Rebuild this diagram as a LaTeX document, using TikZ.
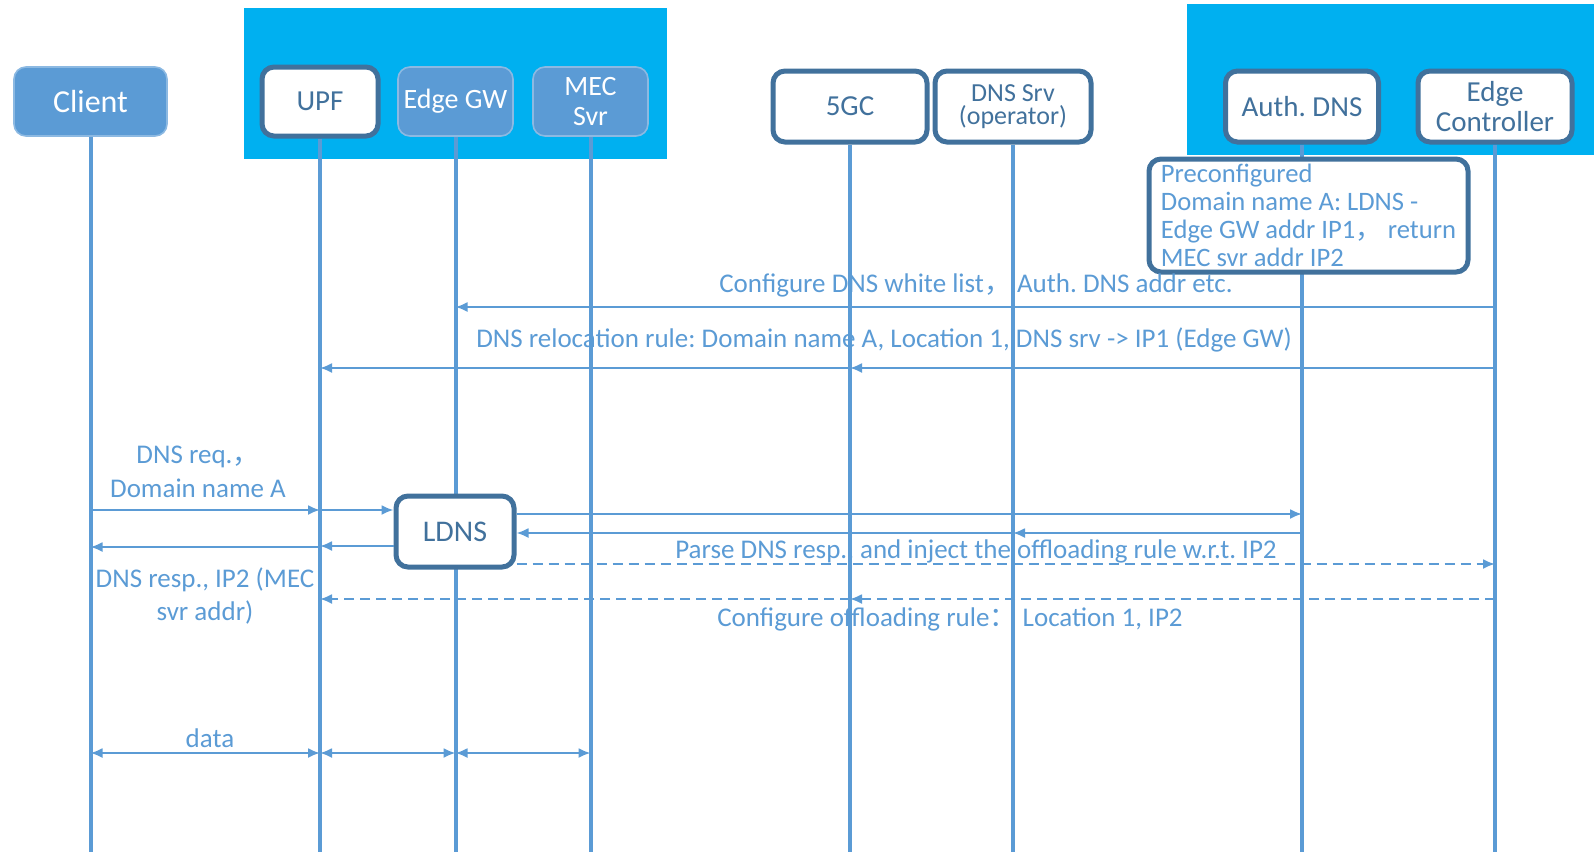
\documentclass[tikz,border=0pt]{standalone}
\usepackage{fontspec}
\setmainfont{Carlito}
\newfontfamily\cjk{Noto Sans CJK SC}
\frenchspacing
\usepackage{tikz}
\usetikzlibrary{arrows.meta}
\tikzset{>={Latex[length=6pt,width=5pt]}}
\definecolor{lineblue}{HTML}{5B9BD5}
\definecolor{darkblue}{HTML}{41719C}
\definecolor{cyanbox}{HTML}{00B0F0}
\tikzset{
  entity/.style={draw=darkblue, line width=2.5pt, fill=white, rounded corners=6pt,
    text=darkblue, font=\fontsize{14.5}{15}\selectfont, align=center, inner sep=0pt},
  solidbox/.style={draw=lineblue!70!white, line width=0.8pt, fill=lineblue, rounded corners=6pt,
    text=white, font=\fontsize{14}{15}\selectfont, align=center, inner sep=0pt},
  lifeline/.style={lineblue, line width=2pt},
  msg/.style={lineblue, line width=1pt, ->},
  dmsg/.style={msg, dash pattern=on 5pt off 3pt},
  lbl/.style={text=lineblue, font=\fontsize{13.5}{16.8}\selectfont, align=center, inner sep=0pt}
}

\begin{document}
\begin{tikzpicture}[x=0.5pt, y=-0.5pt]
    \useasboundingbox (0,0) rectangle (1594,852);
    \fill[cyanbox] (244,8) rectangle (667,159);
    \fill[cyanbox] (1187,4) rectangle (1594,155);

    % heads
    \node[solidbox, minimum width=76.5pt, minimum height=34.5pt, font=\fontsize{16}{17}\selectfont] (client) at (90.5,101.5) {Client};
    \node[entity, minimum width=58pt, minimum height=34.5pt] (upf) at (320,101.5) {UPF};
    \node[solidbox, minimum width=57.5pt, minimum height=34.5pt] (egw) at (455.5,101.5) {Edge GW};
    \node[solidbox, minimum width=57.5pt, minimum height=34.5pt] (mec) at (590.5,101.5) {MEC\\Svr};
    \node[entity, minimum width=77pt, minimum height=35.5pt] (fivegc) at (850,106.5) {5GC};
    \node[entity, minimum width=78pt, minimum height=35.5pt, font=\fontsize{13}{11.7}\selectfont] (dnssrv) at (1013,106.5) {DNS Srv\\(operator)};
    \node[entity, minimum width=76.5pt, minimum height=35.5pt] (auth) at (1302,106.5) {Auth. DNS};
    \node[entity, minimum width=77pt, minimum height=35.5pt] (ctrl) at (1495,106.5) {Edge\\Controller};

    \foreach \n in {client,upf,egw,mec,fivegc,dnssrv,auth,ctrl}
      \draw[lifeline] (\n.south) -- (\n.south |- 0,852);

    \node[entity, minimum width=59pt, minimum height=35.5pt, font=\fontsize{15}{16}\selectfont] (ldns) at (455,531.5) {LDNS};
    \node[entity, text=lineblue, align=left, minimum width=159.5pt, minimum height=56.5pt,
      font=\fontsize{13.3}{14}\selectfont] (preconf) at (1308.5,215.5)
      {Preconfigured\\Domain name A: LDNS -\\Edge GW addr IP1{\cjk ，} return\\MEC svr addr IP2};

    % configuration
    \draw[msg] (ctrl |- 0,307) -- (egw |- 0,307);
    \node[lbl] (wlist) at (976,285) {Configure DNS white list{\cjk ，} Auth. DNS addr etc.};
    \draw[msg] (ctrl |- 0,368) -- (fivegc |- 0,368);
    \draw[msg] (fivegc |- 0,368) -- (upf |- 0,368);
    \node[lbl] (reloc) at (884,340) {DNS relocation rule: Domain name A, Location 1, DNS srv -> IP1 (Edge GW)};

    % dns query
    \draw[msg] (client |- 0,510) -- (upf |- 0,510);
    \draw[msg] (upf |- 0,510) -- (ldns.west |- 0,510);
    \node[lbl] (req) at (198,472) {DNS req.{\cjk ，}\\Domain name A};
    \draw[msg] (ldns.east |- 0,514) -- (auth |- 0,514);
    \draw[msg] (auth |- 0,533) -- (dnssrv |- 0,533);
    \draw[msg] (dnssrv |- 0,533) -- (ldns.east |- 0,533);
    \draw[msg] (ldns.west |- 0,546) -- (upf |- 0,546);
    \draw[msg] (upf |- 0,547) -- (client |- 0,547);
    \node[lbl] (resp) at (205,596) {DNS resp., IP2 (MEC\\svr addr)};

    % offloading
    \draw[dmsg] (ldns.east |- 0,564) -- (ctrl |- 0,564);
    \node[lbl] (parse) at (976,551) {Parse DNS resp., and inject the offloading rule w.r.t. IP2};
    \draw[dmsg] (ctrl |- 0,599) -- (fivegc |- 0,599);
    \draw[dmsg] (fivegc |- 0,599) -- (upf |- 0,599);
    \node[lbl] (offl) at (950,619) {Configure offloading rule{\cjk ：} Location 1, IP2};

    % data
    \draw[msg, <->] (client |- 0,753) -- (upf |- 0,753);
    \draw[msg, <->] (upf |- 0,753) -- (egw |- 0,753);
    \draw[msg, <->] (egw |- 0,753) -- (mec |- 0,753);
    \node[lbl] (data) at (210,738) {data};
\end{tikzpicture}
\end{document}
